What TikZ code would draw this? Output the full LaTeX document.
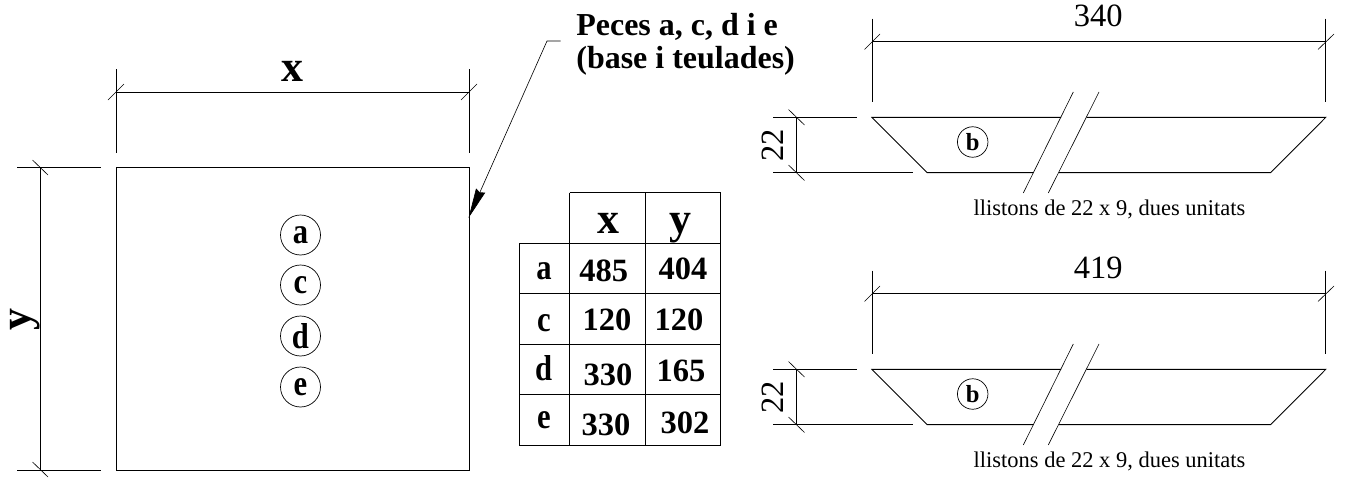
\documentclass[tikz,border=0pt]{standalone}
\usepackage{fontspec}
\setmainfont{Liberation Serif}
\newfontfamily\narrowfont[FakeStretch=0.85]{Liberation Serif}
\usetikzlibrary{arrows.meta}
\tikzset{
	drawline/.style={line width=0.5pt},
	tickline/.style={line width=0.35pt},
	bigbold/.style={font=\fontsize{25}{25}\selectfont\bfseries, inner sep=0pt, anchor=base},
	numbold/.style={font=\fontsize{18.5}{18.5}\selectfont\bfseries, inner sep=0pt, anchor=base},
	letterbold/.style={font=\narrowfont\fontsize{20.5}{20.5}\selectfont\bfseries, inner sep=0pt, anchor=base},
	titlebold/.style={font=\fontsize{18.2}{18.2}\selectfont\bfseries, inner sep=0pt, anchor=base west},
	dimnum/.style={font=\fontsize{18.5}{18.5}\selectfont, inner sep=0pt, anchor=base},
	smalltext/.style={font=\fontsize{12.8}{12.8}\selectfont, inner sep=0pt, anchor=base west},
	partcircle/.style={draw, circle, line width=0.4pt, inner sep=0pt, minimum size=0.8cm, font=\narrowfont\fontsize{20.5}{20.5}\selectfont\bfseries},
	smallcircle/.style={draw, circle, line width=0.4pt, inner sep=0pt, minimum size=0.61cm, font=\fontsize{14}{14}\selectfont\bfseries}
}
\begin{document}
\begin{tikzpicture}[x=0.02cm,y=-0.02cm]
		\useasboundingbox (0,0) rectangle (1346,477);
		% square piece
		\draw[drawline](116,167.5)--(469,167.5)--(469,470)--(116,470)--cycle;
		\draw[drawline](116,69)--(116,153);
		\draw[drawline](469,69)--(469,153);
		\draw[drawline](116,92.3)--(469,92.3);
		\draw[tickline](108,100)--(124,84);
		\draw[tickline](461,100)--(477,84);
		\node[bigbold] (xlabel) at (292,81.7) {x};
		\draw[drawline](17,167.5)--(101,167.5);
		\draw[drawline](17,470)--(101,470);
		\draw[drawline](40.5,167.5)--(40.5,470);
		\draw[tickline](32.5,160)--(48,175);
		\draw[tickline](32.5,462)--(48,477);
		\node[bigbold, rotate=90] (ylabel) at (30.5,320) {y};
		\node[partcircle] (pa) at (300.5,235) {a};
		\node[partcircle] (pc) at (300.5,285) {c};
		\node[partcircle] (pd) at (300.5,336) {d};
		\node[partcircle] (pe) at (300.5,387) {e};
		% leader
		\node[titlebold] (title1) at (576,35) {Peces a, c, d i e};
		\node[titlebold] (title2) at (576,68) {(base i teulades)};
		\coordinate (leadstart) at (560.5,41);
		\coordinate (leadknee) at (547,41);
		\coordinate (leadtip) at (468.5,218);
		\draw[tickline, -{Stealth[length=0.6cm,width=0.2cm,inset=0.04cm]}](leadstart)--(leadknee)--(leadtip);
		% table
		\draw[drawline](569.5,192.7)--(720.5,192.7)--(720.5,445)--(519.5,445)--(519.5,243.3)--(720.5,243.3);
		\draw[drawline](519.5,293.7)--(720.5,293.7);
		\draw[drawline](519.5,344)--(720.5,344);
		\draw[drawline](519.5,394.7)--(720.5,394.7);
		\draw[drawline](569.5,192.7)--(569.5,445);
		\draw[drawline](645,192.7)--(645,445);
		\node[bigbold] (headx) at (608,233) {x};
		\node[bigbold] (heady) at (680,233) {y};
		\node[letterbold] (rowa) at (544,279) {a};
		\node[letterbold] (rowc) at (544,331.7) {c};
		\node[letterbold] (rowd) at (543.7,380) {d};
		\node[letterbold] (rowe) at (544,428) {e};
		\node[numbold] (ax) at (603.7,281.7) {485};
		\node[numbold] (ay) at (683,279) {404};
		\node[numbold] (cx) at (607,330.7) {120};
		\node[numbold] (cy) at (679,330) {120};
		\node[numbold] (dx) at (608,385) {330};
		\node[numbold] (dy) at (681,381) {165};
		\node[numbold] (ex) at (606,435) {330};
		\node[numbold] (ey) at (685,433) {302};
		% upper strip
		\draw[drawline](872,18.7)--(872,102);
		\draw[drawline](1325.7,18.7)--(1325.7,102);
		\draw[drawline](872,41.5)--(1325.7,41.5);
		\draw[tickline](864.5,49.5)--(880,34);
		\draw[tickline](1318,49.5)--(1334,34);
		\node[dimnum] (len1) at (1098.3,26.7) {340};
		\draw[drawline](1061,117.4)--(872,117.4)--(927,172.6)--(1033.3,172.6);
		\draw[drawline](1086.7,117.4)--(1325.7,117.4)--(1270.7,172.6)--(1059,172.6);
		\draw[tickline](1073.3,92)--(1023.3,193);
		\draw[tickline](1099,92)--(1048.3,193);
		\draw[drawline](773.3,117.4)--(857.3,117.4);
		\draw[drawline](773.3,172.6)--(912.7,172.6);
		\draw[drawline](796.3,117.4)--(796.3,172.6);
		\draw[tickline](788.5,109.5)--(804.5,125);
		\draw[tickline](788.5,165)--(804.5,180.5);
		\node[dimnum, rotate=90] (wid1) at (783,145) {22};
		\node[smallcircle] (pb1) at (972.7,142) {b};
		\node[smalltext] (note1) at (973.3,215) {llistons de 22 x 9, dues unitats};
		% lower strip
		\draw[drawline](872,270.7)--(872,354);
		\draw[drawline](1325.7,270.7)--(1325.7,354);
		\draw[drawline](872,293.5)--(1325.7,293.5);
		\draw[tickline](864.5,301.5)--(880,286);
		\draw[tickline](1318,301.5)--(1334,286);
		\node[dimnum] (len2) at (1098.3,278.7) {419};
		\draw[drawline](1061,369.4)--(872,369.4)--(927,424.6)--(1033.3,424.6);
		\draw[drawline](1086.7,369.4)--(1325.7,369.4)--(1270.7,424.6)--(1059,424.6);
		\draw[tickline](1073.3,344)--(1023.3,445);
		\draw[tickline](1099,344)--(1048.3,445);
		\draw[drawline](773.3,369.4)--(857.3,369.4);
		\draw[drawline](773.3,424.6)--(912.7,424.6);
		\draw[drawline](796.3,369.4)--(796.3,424.6);
		\draw[tickline](788.5,361.5)--(804.5,377);
		\draw[tickline](788.5,417)--(804.5,432.5);
		\node[dimnum, rotate=90] (wid2) at (783,397) {22};
		\node[smallcircle] (pb2) at (972.7,394) {b};
		\node[smalltext] (note2) at (973.3,467) {llistons de 22 x 9, dues unitats};
	\end{tikzpicture}
\end{document}
